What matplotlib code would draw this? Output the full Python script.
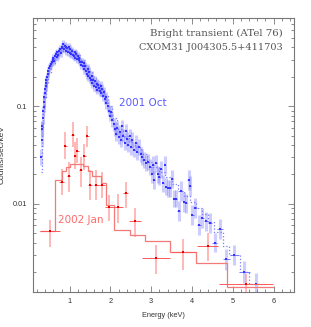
import numpy as np
import matplotlib.pyplot as plt
from matplotlib.ticker import FixedLocator, LogLocator, MultipleLocator, NullFormatter

# 2001 Oct spectrum (blue): energy (keV), counts/sec/keV, error half-length (dex)
blue_x = [0.30, 0.31, 0.32, 0.33, 0.34, 0.35, 0.36, 0.37, 0.38, 0.39,
          0.40, 0.41, 0.42, 0.43, 0.45, 0.46, 0.48, 0.50, 0.52, 0.54,
          0.56, 0.58, 0.60, 0.62, 0.64, 0.66, 0.68, 0.70, 0.72, 0.74,
          0.76, 0.78, 0.80, 0.82, 0.84, 0.86, 0.88, 0.90, 0.92, 0.94,
          0.96, 0.98, 1.00, 1.02, 1.04, 1.06, 1.08, 1.10, 1.12, 1.14,
          1.16, 1.18, 1.20, 1.22, 1.24, 1.26, 1.28, 1.30, 1.32, 1.34,
          1.36, 1.38, 1.40, 1.42, 1.44, 1.46, 1.48, 1.50, 1.52, 1.54,
          1.56, 1.58, 1.60, 1.62, 1.64, 1.66, 1.68, 1.70, 1.72, 1.74,
          1.76, 1.78, 1.80, 1.82, 1.84, 1.86, 1.88, 1.90, 1.93, 1.96,
          1.99, 2.02, 2.05, 2.08, 2.11, 2.14, 2.17, 2.20, 2.23, 2.26,
          2.29, 2.32, 2.35, 2.38, 2.41, 2.44, 2.47, 2.50, 2.54, 2.58,
          2.62, 2.66, 2.70, 2.74, 2.78, 2.83, 2.88, 2.93, 2.98, 3.01,
          3.04, 3.08, 3.12, 3.17, 3.20, 3.25, 3.29, 3.33, 3.37, 3.41,
          3.47, 3.51, 3.57, 3.60, 3.68, 3.74, 3.80, 3.86, 3.92, 3.95,
          4.00, 4.08, 4.17, 4.25, 4.35, 4.43, 4.56, 4.68, 4.84, 5.03,
          5.27, 5.56]
blue_y = [0.030, 0.045, 0.058, 0.062, 0.075, 0.090, 0.098, 0.110, 0.125, 0.135,
          0.150, 0.160, 0.172, 0.185, 0.200, 0.215, 0.230, 0.245, 0.260, 0.270,
          0.285, 0.300, 0.310, 0.290, 0.325, 0.340, 0.320, 0.355, 0.335, 0.370,
          0.385, 0.350, 0.390, 0.405, 0.430, 0.385, 0.415, 0.370, 0.405, 0.390,
          0.360, 0.400, 0.350, 0.385, 0.340, 0.370, 0.335, 0.325, 0.355, 0.315,
          0.340, 0.305, 0.325, 0.295, 0.315, 0.285, 0.265, 0.285, 0.255, 0.275,
          0.240, 0.255, 0.230, 0.215, 0.240, 0.205, 0.225, 0.195, 0.185, 0.205,
          0.172, 0.185, 0.162, 0.180, 0.158, 0.170, 0.148, 0.165, 0.155, 0.142,
          0.160, 0.138, 0.150, 0.128, 0.140, 0.118, 0.125, 0.108, 0.100, 0.090,
          0.080, 0.088, 0.072, 0.065, 0.058, 0.052, 0.060, 0.048, 0.055, 0.045,
          0.062, 0.050, 0.042, 0.056, 0.046, 0.040, 0.050, 0.038, 0.045, 0.036,
          0.042, 0.034, 0.038, 0.032, 0.030, 0.028, 0.026, 0.027, 0.024, 0.020,
          0.025, 0.0175, 0.026, 0.020, 0.019, 0.0225, 0.0162, 0.025, 0.015, 0.0144,
          0.0144, 0.018, 0.0113, 0.0113, 0.0084, 0.0135, 0.0105, 0.0101, 0.0175, 0.0153,
          0.0077, 0.0091, 0.0061, 0.0072, 0.0066, 0.0064, 0.0040, 0.0055, 0.0027, 0.0030,
          0.0020, 0.0015]
blue_err = [0.08, 0.07, 0.07, 0.06, 0.06, 0.05, 0.05, 0.05, 0.05, 0.05,
            0.05, 0.05, 0.05, 0.04, 0.04, 0.04, 0.04, 0.04, 0.04, 0.04,
            0.04, 0.04, 0.04, 0.04, 0.04, 0.04, 0.04, 0.04, 0.04, 0.04,
            0.04, 0.04, 0.04, 0.04, 0.04, 0.04, 0.04, 0.04, 0.04, 0.04,
            0.04, 0.04, 0.04, 0.04, 0.04, 0.04, 0.04, 0.04, 0.04, 0.04,
            0.04, 0.04, 0.04, 0.04, 0.04, 0.04, 0.04, 0.04, 0.04, 0.04,
            0.05, 0.05, 0.05, 0.05, 0.05, 0.05, 0.05, 0.05, 0.05, 0.05,
            0.05, 0.05, 0.05, 0.05, 0.05, 0.05, 0.05, 0.05, 0.05, 0.05,
            0.05, 0.05, 0.05, 0.05, 0.05, 0.05, 0.05, 0.06, 0.06, 0.06,
            0.06, 0.06, 0.07, 0.07, 0.07, 0.07, 0.07, 0.07, 0.07, 0.07,
            0.07, 0.07, 0.07, 0.07, 0.07, 0.07, 0.07, 0.08, 0.08, 0.08,
            0.08, 0.08, 0.08, 0.08, 0.08, 0.08, 0.08, 0.08, 0.08, 0.09,
            0.09, 0.09, 0.09, 0.09, 0.09, 0.09, 0.09, 0.09, 0.09, 0.09,
            0.09, 0.09, 0.09, 0.09, 0.10, 0.10, 0.10, 0.10, 0.10, 0.10,
            0.10, 0.10, 0.10, 0.10, 0.10, 0.10, 0.10, 0.10, 0.11, 0.10,
            0.11, 0.12]

# 2001 Oct model (dotted histogram)
blue_model_edges = [0.29, 0.31, 0.33, 0.35, 0.38, 0.42, 0.47, 0.55, 0.65, 0.75,
                    0.85, 0.95, 1.05, 1.15, 1.25, 1.35, 1.45, 1.55, 1.65, 1.75,
                    1.85, 1.95, 2.05, 2.15, 2.30, 2.45, 2.60, 2.75, 2.90, 3.05,
                    3.20, 3.35, 3.50, 3.65, 3.80, 3.95, 4.10, 4.25, 4.40, 4.55,
                    4.75, 4.90, 5.17, 5.41, 5.85]
blue_model = [0.021, 0.040, 0.060, 0.085, 0.120, 0.170, 0.220, 0.280, 0.330, 0.370,
              0.390, 0.385, 0.365, 0.335, 0.300, 0.265, 0.230, 0.195, 0.170, 0.150,
              0.128, 0.100, 0.075, 0.058, 0.049, 0.043, 0.038, 0.032, 0.027, 0.024,
              0.021, 0.019, 0.016, 0.0135, 0.012, 0.0105, 0.009, 0.0078, 0.0065, 0.0052,
              0.0037, 0.0030, 0.0020, 0.0015]

# 2002 Jan spectrum (red)
red_x = [0.52, 0.80, 0.89, 0.98, 1.07, 1.13, 1.19, 1.27, 1.36, 1.43, 1.51,
         1.65, 1.79, 1.96, 2.19, 2.37, 2.61, 3.12, 3.79, 4.39, 5.33]
red_y = [0.0053, 0.0168, 0.039, 0.0192, 0.051, 0.031, 0.035, 0.022, 0.031, 0.049, 0.0155,
         0.0155, 0.0155, 0.0093, 0.0093, 0.0128, 0.0066, 0.0028, 0.0032, 0.0037, 0.0015]
red_xerr = [0.25, 0.05, 0.04, 0.04, 0.03, 0.03, 0.03, 0.04, 0.04, 0.04, 0.05,
            0.06, 0.07, 0.10, 0.12, 0.07, 0.15, 0.34, 0.31, 0.26, 0.66]
red_ylo = [0.0036, 0.0123, 0.029, 0.0133, 0.038, 0.023, 0.026, 0.0149, 0.022, 0.038, 0.011,
           0.011, 0.0115, 0.0066, 0.0064, 0.0090, 0.0046, 0.0019, 0.0021, 0.0026, 0.0008]
red_yhi = [0.0068, 0.023, 0.055, 0.027, 0.069, 0.043, 0.047, 0.030, 0.041, 0.062, 0.022,
           0.022, 0.021, 0.0123, 0.0125, 0.0168, 0.0090, 0.0038, 0.0044, 0.0050, 0.0019]

# 2002 Jan model (histogram)
red_model_edges = [0.28, 0.64, 0.81, 0.91, 1.02, 1.32, 1.44, 1.56, 1.78, 1.90,
                   2.09, 2.47, 2.86, 3.45, 4.10, 4.86, 6.00]
red_model = [0.0053, 0.0175, 0.0218, 0.0239, 0.0255, 0.0243, 0.0218, 0.0192, 0.0162,
             0.0097, 0.0054, 0.0048, 0.0042, 0.00323, 0.00245, 0.00141]

fig = plt.figure(figsize=(3.11, 3.27), dpi=100)
ax = fig.add_axes([0.106, 0.107, 0.839, 0.838])

# blue data
bx = np.array(blue_x)
by = np.array(blue_y)
be = np.array(blue_err)
mid = (bx[1:] + bx[:-1]) / 2
left = np.concatenate([[bx[0] - (bx[1] - bx[0]) / 2], mid])
right = np.concatenate([mid, [bx[-1] + (bx[-1] - bx[-2]) / 2]])
ax.vlines(bx, by * 10**(-be), by * 10**be, color='#7070ff', alpha=0.35, lw=2.2, zorder=2)
ax.hlines(by, left, right, color='#4040ff', lw=0.6, alpha=0.8, zorder=3)
ax.plot(bx, by, 's', color='#3535ff', ms=2.0, mew=0, zorder=4)
ax.stairs(blue_model, blue_model_edges, baseline=None, color='#7a7aff',
          lw=0.9, ls=':', zorder=3)

# red data
rx = np.array(red_x)
ry = np.array(red_y)
ax.vlines(rx, red_ylo, red_yhi, color='#ff9a9a', alpha=0.7, lw=1.4, zorder=5)
ax.hlines(ry, rx - np.array(red_xerr), rx + np.array(red_xerr), color='#ff5a5a', lw=0.7, zorder=6)
ax.plot(rx, ry, 's', color='#ee0000', ms=2.0, mew=0, zorder=7)
ax.stairs(red_model, red_model_edges, baseline=None, color='#f47a7a', lw=0.9, zorder=5)

ax.set_yscale('log')
ax.set_xlim(0.1, 6.5)
ax.set_ylim(0.00125, 0.8)

# labels inside the frame
ax.text(0.958, 0.942, 'Bright transient (ATel 76)', transform=ax.transAxes,
        ha='right', va='center', family='DejaVu Serif', fontsize=7.4, color='#555555')
ax.text(0.958, 0.894, 'CXOM31 J004305.5+411703', transform=ax.transAxes,
        ha='right', va='center', family='DejaVu Serif', fontsize=7, color='#555555')
ax.text(2.20, 0.107, '2001 Oct', ha='left', va='center', fontsize=7.5, color='#5a5aff')
ax.text(0.71, 0.0068, '2002 Jan', ha='left', va='center', fontsize=7.5, color='#ff6a6a')

# PGPLOT-style frame and ticks
for s in ax.spines.values():
    s.set_color('#777777')
    s.set_linewidth(0.8)
ax.xaxis.set_major_locator(MultipleLocator(1))
ax.xaxis.set_minor_locator(MultipleLocator(0.2))
ax.yaxis.set_major_locator(FixedLocator([0.01, 0.1]))
ax.yaxis.set_major_formatter(plt.FixedFormatter(['0.01', '0.1']))
ax.yaxis.set_minor_locator(LogLocator(base=10, subs=np.arange(2, 10)))
ax.yaxis.set_minor_formatter(NullFormatter())
ax.tick_params(which='both', direction='in', top=True, right=True, color='#777777',
               labelsize=5.3, labelcolor='#333333', width=0.6)
ax.tick_params(which='major', length=4, pad=4)
ax.tick_params(which='minor', length=2)
for lab in ax.get_xticklabels() + ax.get_yticklabels():
    lab.set_family('Liberation Sans')

ax.set_xlabel('Energy (keV)', fontsize=5.3, family='Liberation Sans', color='#333333', labelpad=5)
ax.set_ylabel('Counts/sec/keV', fontsize=6, family='Liberation Sans', color='#333333', labelpad=5)

fig.savefig('out.png', dpi=100)
